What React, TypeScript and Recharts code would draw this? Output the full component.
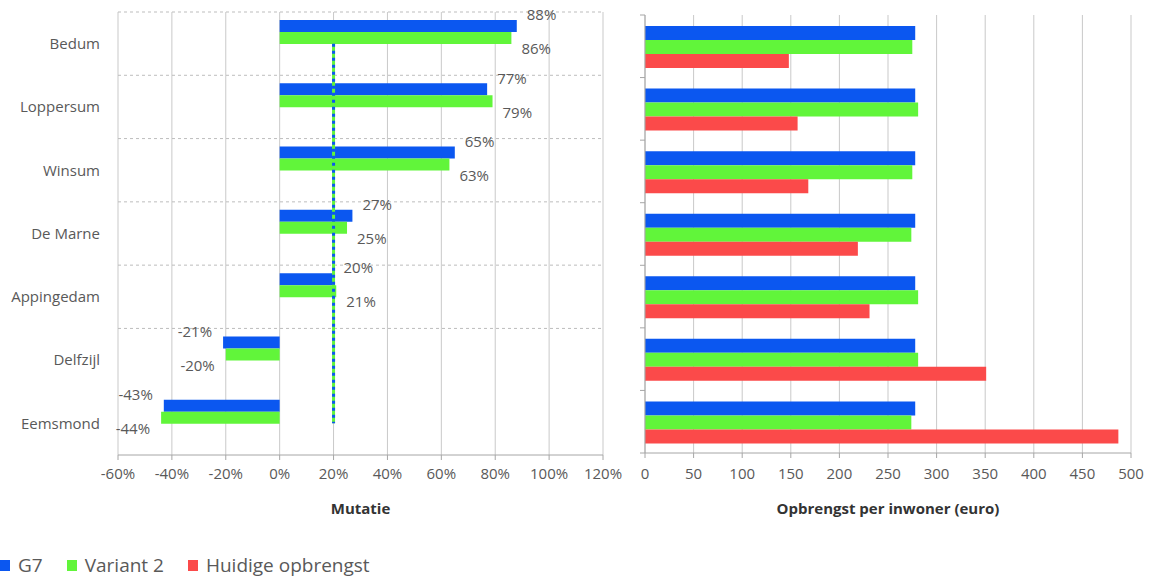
import React from "react";
import {
  BarChart,
  Bar,
  XAxis,
  YAxis,
  CartesianGrid,
  ReferenceLine,
  LabelList,
} from "recharts";

const categories = [
  "Bedum",
  "Loppersum",
  "Winsum",
  "De Marne",
  "Appingedam",
  "Delfzijl",
  "Eemsmond",
];

// mutatie t.o.v. huidige opbrengst (%)
const mutatieG7 = [88, 77, 65, 27, 20, -21, -43];
const mutatieVariant2 = [86, 79, 63, 25, 21, -20, -44];
const gemiddeldeMutatie = 20;

// opbrengst per inwoner (euro)
const opbrengstG7 = [278, 278, 278, 278, 278, 278, 278];
const opbrengstVariant2 = [275, 281, 275, 274, 281, 281, 274];
const opbrengstHuidig = [148, 157, 168, 219, 231, 351, 487];

const mutatieTicks = [-60, -40, -20, 0, 20, 40, 60, 80, 100, 120];
const opbrengstTicks = [0, 50, 100, 150, 200, 250, 300, 350, 400, 450, 500];

const BLUE = "#0b57f0";
const GREEN = "#61f53a";
const RED = "#fb4a4a";
const GRID = "#c9c9c9";
const AXIS = "#a6a6a6";
const TEXT = "#595959";
const FONT = "'Open Sans', sans-serif";

const mutatieData = categories.map((name, i) => ({
  name,
  g7: mutatieG7[i],
  variant2: mutatieVariant2[i],
}));

const opbrengstData = categories.map((name, i) => ({
  name,
  g7: opbrengstG7[i],
  variant2: opbrengstVariant2[i],
  huidig: opbrengstHuidig[i],
}));

const CHART_H = 530;
const RIGHT_TOP = 15;
const RIGHT_XAXIS_H = 77;
const rightBand = (CHART_H - RIGHT_TOP - RIGHT_XAXIS_H) / categories.length;

function makeLabel(side: "above" | "below") {
  return (props: any) => {
    const { x, y, width, height, value } = props;
    const a = Number(x);
    const b = Number(x) + Number(width);
    const top = Math.min(Number(y), Number(y) + Number(height));
    const bottom = Math.max(Number(y), Number(y) + Number(height));
    const neg = value < 0;
    const end = neg ? Math.min(a, b) : Math.max(a, b);
    const cy = side === "above" ? top - 5 : bottom + 5;
    return (
      <text
        x={neg ? end - 11 : end + 10}
        y={cy}
        dy="0.35em"
        textAnchor={neg ? "end" : "start"}
        fontSize={15}
        fill={TEXT}
        fontFamily={FONT}
      >
        {`${value}%`}
      </text>
    );
  };
}

function BoundaryTick(props: any) {
  const { x, y, index } = props;
  const y0 = y - rightBand / 2;
  return (
    <g>
      <line x1={x - 5} x2={x} y1={y0} y2={y0} stroke={AXIS} />
      {index === categories.length - 1 && (
        <line x1={x - 5} x2={x} y1={y + rightBand / 2} y2={y + rightBand / 2} stroke={AXIS} />
      )}
    </g>
  );
}

function Legend() {
  const items = [
    { label: "G7", color: BLUE },
    { label: "Variant 2", color: GREEN },
    { label: "Huidige opbrengst", color: RED },
  ];
  return (
    <div
      style={{
        position: "absolute",
        left: 0,
        top: 552,
        display: "flex",
        alignItems: "center",
        fontFamily: FONT,
        fontSize: 19,
        color: TEXT,
      }}
    >
      {items.map((it) => (
        <div key={it.label} style={{ display: "flex", alignItems: "center", marginRight: 24 }}>
          <span
            style={{
              display: "inline-block",
              width: 10,
              height: 11,
              background: it.color,
              marginRight: 8,
            }}
          />
          <span>{it.label}</span>
        </div>
      ))}
    </div>
  );
}

export default function App() {
  return (
    <div
      style={{
        position: "absolute",
        left: 0,
        top: 0,
        width: 1153,
        height: 579,
        background: "#fff",
        fontFamily: FONT,
      }}
    >
      <div style={{ position: "absolute", left: 0, top: 0 }}>
        <BarChart
          width={632}
          height={CHART_H}
          data={mutatieData}
          layout="vertical"
          margin={{ top: 12, right: 29, bottom: 0, left: 0 }}
          barCategoryGap={8}
          barGap={0}
        >
          <CartesianGrid horizontal={false} stroke={GRID} />
          <CartesianGrid
            vertical={false}
            stroke="#bdbdbd"
            strokeDasharray="3 3"
            horizontalCoordinatesGenerator={({ offset }: any) => {
              const band = offset.height / categories.length;
              return categories.slice(0, 6).map((_, i) => offset.top + i * band);
            }}
          />
          <XAxis
            type="number"
            domain={[-60, 120]}
            ticks={mutatieTicks}
            interval={0}
            tickFormatter={(v) => `${v}%`}
            axisLine={{ stroke: AXIS }}
            tickLine={{ stroke: AXIS }}
            tickSize={5}
            tickMargin={8}
            tick={{ fontSize: 15, fill: TEXT, fontFamily: FONT }}
            height={75}
            label={{
              value: "Mutatie",
              position: "insideBottom",
              offset: 16,
              fontSize: 15,
              fontWeight: 700,
              fill: "#333",
              fontFamily: FONT,
            }}
          />
          <YAxis
            type="category"
            dataKey="name"
            width={118}
            interval={0}
            axisLine={false}
            tickLine={false}
            tickSize={0}
            tickMargin={18}
            tick={{ fontSize: 15, fill: TEXT, fontFamily: FONT }}
          />
          <Bar dataKey="g7" fill={BLUE} isAnimationActive={false}>
            <LabelList dataKey="g7" content={makeLabel("above")} />
          </Bar>
          <Bar dataKey="variant2" fill={GREEN} isAnimationActive={false}>
            <LabelList dataKey="variant2" content={makeLabel("below")} />
          </Bar>
          <Bar dataKey="leeg1" fill="none" isAnimationActive={false} />
          <Bar dataKey="leeg2" fill="none" isAnimationActive={false} />
          <ReferenceLine
            segment={[
              { x: gemiddeldeMutatie, y: categories[0] },
              { x: gemiddeldeMutatie, y: categories[categories.length - 1] },
            ]}
            stroke={GREEN}
            strokeWidth={3}
          />
          <ReferenceLine
            segment={[
              { x: gemiddeldeMutatie, y: categories[0] },
              { x: gemiddeldeMutatie, y: categories[categories.length - 1] },
            ]}
            stroke={BLUE}
            strokeWidth={3}
            strokeDasharray="3 4"
          />
        </BarChart>
      </div>
      <div style={{ position: "absolute", left: 620, top: 0 }}>
        <BarChart
          width={533}
          height={CHART_H}
          data={opbrengstData}
          layout="vertical"
          margin={{ top: RIGHT_TOP, right: 22, bottom: 0, left: 0 }}
          barCategoryGap={11}
          barGap={0}
        >
          <CartesianGrid horizontal={false} stroke={GRID} />
          <XAxis
            type="number"
            domain={[0, 500]}
            ticks={opbrengstTicks}
            interval={0}
            axisLine={{ stroke: AXIS }}
            tickLine={{ stroke: AXIS }}
            tickSize={5}
            tickMargin={10}
            tick={{ fontSize: 15, fill: TEXT, fontFamily: FONT }}
            height={RIGHT_XAXIS_H}
            label={{
              value: "Opbrengst per inwoner (euro)",
              position: "insideBottom",
              offset: 16,
              fontSize: 15,
              fontWeight: 700,
              fill: "#333",
              fontFamily: FONT,
            }}
          />
          <YAxis
            type="category"
            dataKey="name"
            width={25}
            interval={0}
            axisLine={{ stroke: AXIS }}
            tickLine={false}
            tickSize={0}
            tickMargin={0}
            tick={<BoundaryTick />}
          />
          <Bar dataKey="g7" fill={BLUE} isAnimationActive={false} />
          <Bar dataKey="variant2" fill={GREEN} isAnimationActive={false} />
          <Bar dataKey="huidig" fill={RED} isAnimationActive={false} />
        </BarChart>
      </div>
      <Legend />
    </div>
  );
}
